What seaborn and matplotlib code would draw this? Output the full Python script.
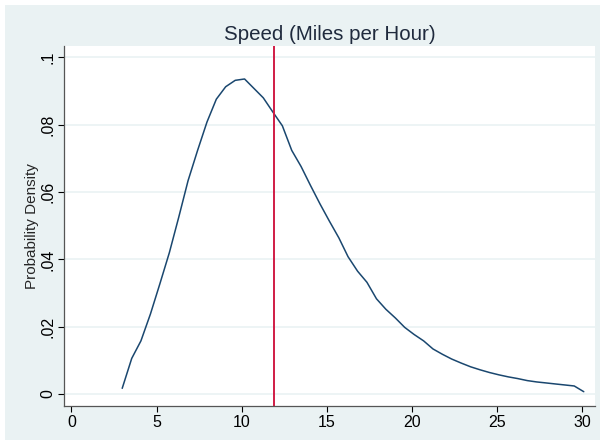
import numpy as np
import seaborn as sns
import matplotlib.pyplot as plt
from matplotlib.patches import Rectangle

# kernel density of speed (mph)
speed = [2.98, 3.54, 4.08, 4.64, 5.19, 5.75, 6.30, 6.85, 7.41, 7.96,
         8.51, 9.06, 9.62, 10.17, 10.72, 11.27, 11.83, 12.39, 12.94, 13.49,
         14.04, 14.60, 15.15, 15.71, 16.25, 16.81, 17.36, 17.92, 18.47, 19.03,
         19.58, 20.13, 20.69, 21.24, 21.80, 22.34, 22.90, 23.45, 24.01, 24.56,
         25.12, 25.67, 26.22, 26.78, 27.33, 27.89, 28.43, 28.99, 29.54, 30.10]
density = [0.0017, 0.0106, 0.0158, 0.0238, 0.0327, 0.0420, 0.0525, 0.0634, 0.0724, 0.0808,
           0.0876, 0.0913, 0.0932, 0.0936, 0.0908, 0.0880, 0.0838, 0.0797, 0.0724, 0.0676,
           0.0620, 0.0565, 0.0514, 0.0464, 0.0408, 0.0365, 0.0332, 0.0283, 0.0252, 0.0226,
           0.0198, 0.0177, 0.0158, 0.0134, 0.0118, 0.0104, 0.0092, 0.0081, 0.0072, 0.0064,
           0.0057, 0.0051, 0.0046, 0.0040, 0.0036, 0.0033, 0.0030, 0.0027, 0.0024, 0.0007]
mean_speed = 11.88

x_ticks = [0, 5, 10, 15, 20, 25, 30]
y_ticks = [0, 0.02, 0.04, 0.06, 0.08, 0.1]
y_tick_labels = ['0', '.02', '.04', '.06', '.08', '.1']

sns.set_style('white')
plt.rcParams['font.family'] = ['Liberation Sans', 'DejaVu Sans']

bg = '#EAF2F3'
fig = plt.figure(figsize=(6.05, 4.45), dpi=100, facecolor='white')
# stata-like graph region, behind the axes
fig.patches.append(Rectangle((5 / 605, 5 / 445), 595 / 605, 435 / 445,
                             transform=fig.transFigure, facecolor=bg,
                             edgecolor='none', zorder=-10))
ax = fig.add_axes([64 / 605, 39.5 / 445, 531 / 605, 359.5 / 445])
ax.set_facecolor('white')

sns.lineplot(x=speed, y=density, ax=ax, color='#1A476F', linewidth=1.1)
ax.axvline(mean_speed, color='#D01C45', linewidth=1.4)

ax.set_xlim(-0.44, 30.76)
ax.set_ylim(-0.0034, 0.1034)
ax.set_xticks(x_ticks)
ax.set_yticks(y_ticks)
ax.set_yticklabels(y_tick_labels, rotation=90, va='center')
ax.grid(axis='y', color=bg, linewidth=1.2)
ax.set_axisbelow(True)

for side in ['top', 'right']:
    ax.spines[side].set_visible(False)
for side in ['left', 'bottom']:
    ax.spines[side].set_color('#555555')
    ax.spines[side].set_linewidth(0.9)
ax.tick_params(axis='both', direction='out', length=4, width=0.8,
               colors='black', labelsize=11.5, left=True, bottom=True)
ax.tick_params(axis='x', pad=3)
ax.tick_params(axis='y', pad=2)

ax.set_ylabel('Probability Density', fontsize=11, labelpad=1)
ax.set_xlabel('')
fig.text(0.545, 1 - 34 / 445, 'Speed (Miles per Hour)', ha='center', va='center',
         fontsize=14.8, color='#1f2a3d')

fig.savefig('out.png', dpi=100, facecolor=fig.get_facecolor())
